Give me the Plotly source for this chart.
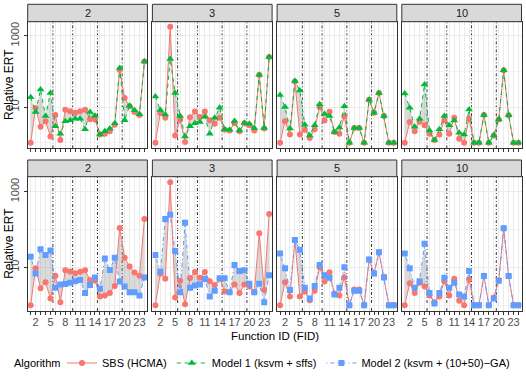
import plotly.graph_objects as go
from plotly.subplots import make_subplots

# FID on the x axis, one panel per dimension
fids = list(range(1, 25))
dims = [2, 3, 5, 10]
tick_fids = [2, 5, 8, 11, 14, 17, 20, 23]
group_bounds = [5.5, 9.5, 14.5, 19.5]

# relative ERT
sbs_d2 = [1, 9.5, 2.8, 4.0, 1.5, 6.0, 1.2, 8.4, 7.7, 7.0, 7.6, 8.4, 4.6, 4.5, 1.7, 1.8, 2.1, 3.2, 110, 18, 10.5, 7.3, 6.0, 190]
sbs_d3 = [1, 6.8, 5.0, 1780, 1.6, 4.4, 1.05, 5.2, 7.5, 5.3, 7.5, 4.3, 3.4, 5.0, 2.3, 2.2, 3.5, 2.1, 3.5, 3.1, 2.2, 80, 2.5, 255]
sbs_d5 = [1, 4.0, 1.7, 52, 1.7, 2.3, 1.35, 2.4, 10, 4.2, 7.4, 2.0, 1.8, 5.5, 1, 2.6, 2.6, 1, 16, 7.0, 25, 5.6, 1, 1]
sbs_d10 = [1, 3.8, 2.1, 3.9, 3.1, 1.8, 1.2, 1.7, 4.3, 1.8, 5.0, 1.3, 1, 4.8, 1, 1, 6.0, 1, 1.6, 4.5, 108, 5.9, 1, 1]

m1_d2 = [19, 7.3, 31, 5.6, 25, 2.9, 1.8, 4.0, 4.3, 4.7, 4.7, 2.4, 7.3, 5.7, 1.7, 2.1, 2.5, 3.5, 125, 4.3, 11, 8.1, 6.3, 190]
m1_d3 = [20, 8.3, 6.2, 225, 25, 5.6, 1.5, 2.9, 3.5, 3.8, 5.4, 1.8, 5.0, 9.6, 2.4, 2.3, 4.1, 2.2, 3.6, 3.4, 2.6, 81, 2.6, 255]
m1_d5 = [22, 10, 2.5, 54, 29, 3.2, 1.6, 3.1, 12, 6.4, 5.6, 2.0, 2.7, 10.5, 1, 2.6, 2.6, 1, 16, 7.0, 25, 5.6, 1, 1]
m1_d10 = [24, 9.6, 2.8, 4.7, 43, 2.2, 1.2, 2.4, 5.6, 3.1, 4.2, 1.9, 1.7, 8.6, 1, 1, 6.0, 1, 1.6, 4.5, 108, 5.9, 1, 1]

m2_d2 = [19, 6.9, 30, 21, 28, 2.9, 3.5, 3.6, 3.9, 4.3, 4.6, 2.1, 3.4, 5.4, 2.7, 17, 8.5, 18, 4.2, 3.1, 2.2, 2.2, 1.8, 5.4]
m2_d3 = [21, 7.7, 190, 245, 27, 2.2, 150, 2.9, 3.3, 3.5, 4.9, 1.7, 2.4, 5.1, 5.1, 2.2, 11.5, 8.0, 8.3, 3.7, 2.2, 3.7, 1.2, 6.2]
m2_d5 = [23, 9.4, 2.5, 53, 29, 2.9, 1.5, 3.2, 11.5, 6.2, 5.3, 1.9, 2.9, 10, 1, 2.4, 2.4, 1, 16, 6.9, 25, 5.4, 1, 1]
m2_d10 = [23, 9.4, 2.9, 4.3, 42, 2.1, 1.1, 2.1, 5.3, 2.9, 3.9, 1.9, 1.7, 8.0, 1, 1, 5.9, 1, 1.5, 4.4, 108, 5.9, 1, 1]

sbs = [sbs_d2, sbs_d3, sbs_d5, sbs_d10]
model_rows = [
    ('Model 1 (ksvm + sffs)', [m1_d2, m1_d3, m1_d5, m1_d10], '#00BA38', 'triangle-up', 7, '4px,4px'),
    ('Model 2 (ksvm + (10+50)\u2212GA)', [m2_d2, m2_d3, m2_d5, m2_d10], '#619CFF', 'square', 6, '1px,3px,4px,3px'),
]

W, H = 526, 380
FONT = 'Liberation Sans, Arial, sans-serif'

fig = make_subplots(rows=2, cols=4)

for r, (mname, mdata, mcolor, msym, msize, mdash) in enumerate(model_rows, start=1):
    for c in range(4):
        # grey ribbon between SBS and the model
        fig.add_trace(go.Scatter(
            x=fids, y=mdata[c], mode='lines', line=dict(width=0),
            showlegend=False, hoverinfo='skip'), row=r, col=c + 1)
        fig.add_trace(go.Scatter(
            x=fids, y=sbs[c], mode='lines', line=dict(width=0),
            fill='tonexty', fillcolor='rgba(150,150,150,0.35)',
            showlegend=False, hoverinfo='skip'), row=r, col=c + 1)
        # SBS
        fig.add_trace(go.Scatter(
            x=fids, y=sbs[c], mode='lines+markers', name='SBS (HCMA)',
            line=dict(color='#F8766D', width=1),
            marker=dict(symbol='circle', size=6, color='#F8766D'),
            showlegend=(r == 1 and c == 0)), row=r, col=c + 1)
        # model
        fig.add_trace(go.Scatter(
            x=fids, y=mdata[c], mode='lines+markers', name=mname,
            line=dict(color=mcolor, width=1, dash=mdash),
            marker=dict(symbol=msym, size=msize, color=mcolor),
            showlegend=(c == 0)), row=r, col=c + 1)
        for b in group_bounds:
            fig.add_vline(x=b, row=r, col=c + 1, layer='below',
                          line=dict(color='black', width=0.8, dash='3px,2px,1px,2px'))

# panel geometry in pixels
col_left = [27.7, 152.4, 277.1, 401.8]
panel_w = 119.7
row_top = [21.7, 176.7]
row_bot = [148.3, 311.0]
strip_top = [4.3, 160.0]

def px(x):
    return x / W

def py(y):
    return 1 - y / H

for r in range(2):
    for c in range(4):
        fig.update_xaxes(
            domain=[px(col_left[c]), px(col_left[c] + panel_w)],
            range=[0.4, 24.6], tickmode='array', tickvals=fids,
            ticktext=[str(f) if f in tick_fids else '' for f in fids],
            showticklabels=(r == 1), ticks='outside', ticklen=3, tickcolor='#333333',
            tickangle=0, ticklabelstandoff=-2,
            showgrid=True, gridcolor='#EBEBEB', gridwidth=1, zeroline=False,
            showline=True, mirror=True, linecolor='#333333', linewidth=1,
            tickfont=dict(family=FONT, size=11, color='#4D4D4D'),
            row=r + 1, col=c + 1)
        fig.update_yaxes(
            domain=[py(row_bot[r]), py(row_top[r])],
            type='log', range=[-0.155, 3.395],
            tickmode='array', tickvals=[10, 1000], ticktext=['10', '1000'],
            showticklabels=(c == 0), ticks='outside' if c == 0 else '',
            ticklen=3, tickcolor='#333333', tickangle=-90,
            showgrid=True, gridcolor='#EBEBEB', gridwidth=1, zeroline=False,
            minor=dict(tickmode='array', tickvals=[1, 100], showgrid=True,
                       gridcolor='#F2F2F2', gridwidth=0.6, ticks=''),
            showline=True, mirror=True, linecolor='#333333', linewidth=1,
            tickfont=dict(family=FONT, size=11, color='#4D4D4D'),
            row=r + 1, col=c + 1)
        # facet strip
        fig.add_shape(type='rect', xref='paper', yref='paper',
                      x0=px(col_left[c]), x1=px(col_left[c] + panel_w),
                      y0=py(row_top[r]), y1=py(strip_top[r]),
                      fillcolor='#D9D9D9', line=dict(color='#333333', width=1))
        fig.add_annotation(x=px(col_left[c] + panel_w / 2),
                           y=py((row_top[r] + strip_top[r]) / 2),
                           xref='paper', yref='paper', text=str(dims[c]), showarrow=False,
                           xanchor='center', yanchor='middle',
                           font=dict(family=FONT, size=11, color='#1A1A1A'))
    fig.add_annotation(x=px(9), y=py((row_top[r] + row_bot[r]) / 2),
                       xref='paper', yref='paper', text='Relative ERT', textangle=-90,
                       xanchor='center', yanchor='middle', showarrow=False,
                       font=dict(family=FONT, size=12, color='black'))

fig.add_annotation(x=px((col_left[0] + col_left[3] + panel_w) / 2), y=py(336),
                   xref='paper', yref='paper', text='Function ID (FID)', showarrow=False,
                   xanchor='center', yanchor='middle',
                   font=dict(family=FONT, size=11.5, color='black'))

# legend title as its own text so it lines up with the entries
fig.add_annotation(x=px(12), y=py(363), xref='paper', yref='paper', text='Algorithm',
                   showarrow=False, xanchor='left', yanchor='middle',
                   font=dict(family=FONT, size=11, color='black'))

fig.update_layout(
    width=W, height=H,
    margin=dict(l=0, r=0, t=0, b=0),
    paper_bgcolor='white', plot_bgcolor='white',
    font=dict(family=FONT, size=11, color='black'),
    legend=dict(orientation='h', x=px(62), xanchor='left', y=py(363), yanchor='middle',
                traceorder='normal', font=dict(size=11), itemwidth=30,
                bgcolor='rgba(0,0,0,0)'),
)

# the page body has a default 8px margin; drop it so the figure fills the window
fig.write_html('out.html', config={'displayModeBar': False},
               post_script="document.body.style.margin='0';")
